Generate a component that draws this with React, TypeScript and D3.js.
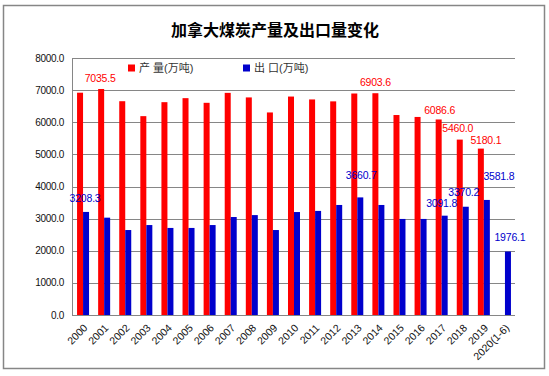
import React from "react";
import * as d3 from "d3";

const categories = ["2000","2001","2002","2003","2004","2005","2006","2007","2008","2009","2010","2011","2012","2013","2014","2015","2016","2017","2018","2019","2020(1-6)"];
const production: (number | null)[] = [6920, 7035.5, 6655, 6190, 6625, 6750, 6605, 6915, 6773, 6305, 6800, 6710, 6650, 6895, 6903.6, 6225, 6165, 6086.6, 5460.0, 5180.1, null];
const exports: number[] = [3208.3, 3030, 2645, 2800, 2710, 2710, 2800, 3050, 3110, 2645, 3205, 3240, 3425, 3660.7, 3425, 2990, 2990, 3091.8, 3370.2, 3581.8, 1976.1];
const yTicks = [0, 1000, 2000, 3000, 4000, 5000, 6000, 7000, 8000];
const seriesNames = ["产 量(万吨)", "出 口(万吨)"];
const title = "加拿大煤炭产量及出口量变化";

// which bars carry a value label, with manual label nudges [index, dx, dy]
const prodLabels: [number, number, number][] = [[1, -1, -11], [14, 0, -10.5], [17, 1, -9.5], [18, -2, -11], [19, 5, -8.5]];
const expLabels: [number, number, number][] = [[0, -1, -14], [13, 1, -22], [17, -3, -12], [18, -2, -14], [19, 12, -24], [20, 2, -14]];

const W = 549, H = 376;
const M = { left: 72, right: 515, top: 58, bottom: 315 };
const RED = "#ff0000", BLUE = "#0000cc";
const FONT = "'Liberation Sans', 'Noto Sans CJK SC', Arial, sans-serif";

export default function App() {
  const x = d3.scaleBand<string>().domain(categories).range([M.left, M.right]).paddingInner(0).paddingOuter(0);
  const y = d3.scaleLinear().domain([0, 8000]).range([M.bottom, M.top]);
  const bw = 6;
  const redX = (c: string) => x(c)! + x.bandwidth() / 2 - bw + 0.5;
  const blueX = (c: string) => x(c)! + x.bandwidth() / 2 + 0.5;
  const fmt = d3.format(".1f");

  return (
    <svg width={W} height={H} style={{ position: "absolute", left: 0, top: 0, background: "#fff" }} fontFamily={FONT}>
      <rect x={3.5} y={5.5} width={541} height={363} fill="#fff" stroke="#868686" strokeWidth={1.5} />
      <text x={275} y={36} textAnchor="middle" fontSize={16} fontWeight="bold" fontFamily="'Noto Sans CJK SC', sans-serif" fill="#000">{title}</text>

      {yTicks.map((t) => (
        <g key={t}>
          <line x1={M.left} x2={M.right} y1={Math.round(y(t)) + 0.5} y2={Math.round(y(t)) + 0.5} stroke="#868686" strokeWidth={1} />
          <text x={64} y={y(t)} dy="0.35em" textAnchor="end" fontSize={10} letterSpacing={-0.3} fill="#111">{fmt(t)}</text>
        </g>
      ))}
      <line x1={M.left + 0.5} x2={M.left + 0.5} y1={M.top} y2={M.bottom} stroke="#868686" />

      {categories.map((c, i) => (
        <g key={c}>
          {production[i] != null && (
            <rect x={redX(c)} y={y(production[i] as number)} width={bw} height={M.bottom - y(production[i] as number)} fill={RED} />
          )}
          <rect x={blueX(c)} y={y(exports[i])} width={bw} height={M.bottom - y(exports[i])} fill={BLUE} />
          <text transform={`translate(${x(c)! + x.bandwidth() / 2 + 3},${M.bottom + 11}) rotate(-45)`} textAnchor="end" fontSize={10.5} fill="#111" dy="0.35em">{c}</text>
        </g>
      ))}

      {prodLabels.map(([i, dx, dy]) => (
        <text key={"p" + i} x={redX(categories[i]) + bw / 2 + dx} y={y(production[i] as number) + dy} dy="0.35em" textAnchor="middle" fontSize={10.5} letterSpacing={-0.2} fill={RED}>{fmt(production[i] as number)}</text>
      ))}
      {expLabels.map(([i, dx, dy]) => (
        <text key={"e" + i} x={blueX(categories[i]) + bw / 2 + dx} y={y(exports[i]) + dy} dy="0.35em" textAnchor="middle" fontSize={10.5} letterSpacing={-0.2} fill={BLUE}>{fmt(exports[i])}</text>
      ))}

      <rect x={128} y={64.5} width={7} height={7} fill={RED} />
      <text x={139} y={68} dy="0.35em" fontSize={11} fill="#333">{seriesNames[0]}</text>
      <rect x={243} y={64.5} width={7} height={7} fill={BLUE} />
      <text x={254} y={68} dy="0.35em" fontSize={11} fill="#333">{seriesNames[1]}</text>
    </svg>
  );
}
